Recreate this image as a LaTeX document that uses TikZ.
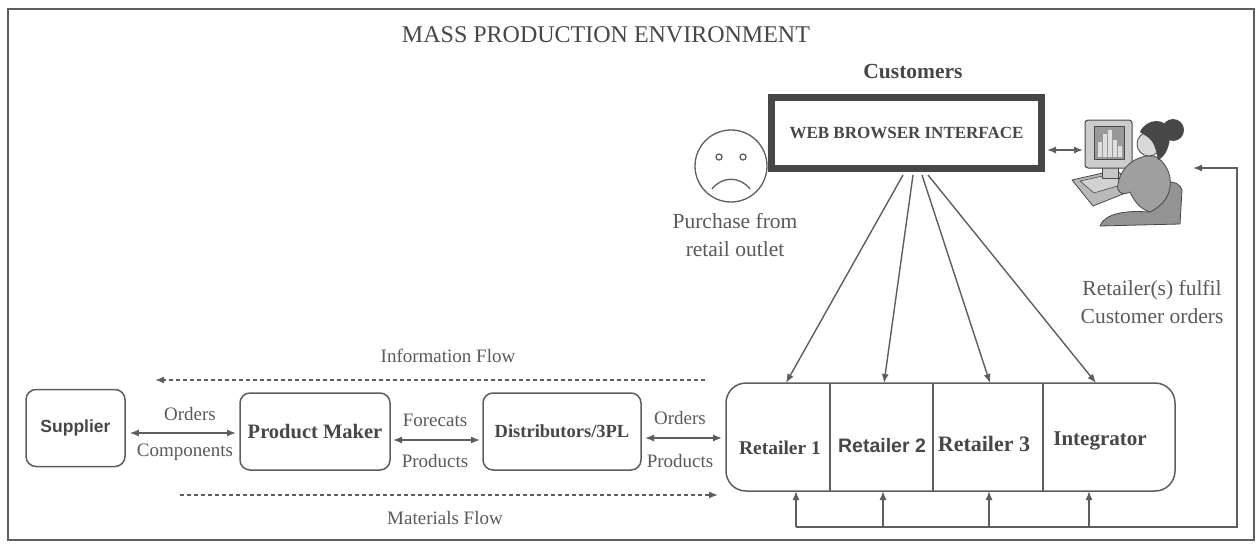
\documentclass[tikz,border=0pt]{standalone}
\usepackage{fontspec}
\setmainfont{Liberation Serif}
\newfontfamily\sansfam{Liberation Sans}
\usetikzlibrary{arrows.meta,calc}
\definecolor{ink}{HTML}{5E5E5E}
\definecolor{txt}{HTML}{5A5A5A}
\definecolor{dark}{HTML}{474747}
\newcommand{\fs}[1]{\fontsize{#1}{#1}\selectfont}
\begin{document}
\begin{tikzpicture}[x=1pt,y=-1pt,
  >={Latex[length=9pt,width=7pt]},
  lbl/.style={text=txt,font=\fs{19},inner sep=0pt},
  biglbl/.style={text=txt,font=\fs{21.5},inner sep=0pt},
  blbl/.style={text=dark,inner sep=0pt},
  stage/.style={draw=ink,line width=1.5pt,rounded corners=10pt,minimum height=77pt,inner sep=0pt},
  flow/.style={draw=ink,line width=1.4pt},
  dashflow/.style={draw=ink,line width=1.6pt,dash pattern=on 4pt off 3pt},
]
\useasboundingbox (0,0) rectangle (1257,543);
\fill[white] (0,0) rectangle (1257,543);
% outer frame
\draw[ink,line width=2pt] (8,9) rectangle (1254,540);

% titles
\node[blbl,font=\fs{24}] (title) at (606,35) {MASS PRODUCTION ENVIRONMENT};
\node[blbl,font=\bfseries\fs{21.5}] (cust) at (913,72) {Customers};

% web interface
\node[draw=dark,line width=7pt,minimum width=270pt,minimum height=71pt,inner sep=0pt,
      font=\bfseries\fs{17},text=dark] (web) at (906.5,133) {WEB BROWSER INTERFACE};

% unhappy face
\begin{scope}[draw=ink,line width=1.3pt]
  \draw (731,166) circle (36);
  \draw (719,157) circle (3);
  \draw (743,157) circle (3);
  \draw (712,189) .. controls (722,176) and (740,176) .. (750,189);
\end{scope}
\node[biglbl] (p1) at (735,221) {Purchase from};
\node[biglbl] (p2) at (735,249) {retail outlet};

% customer at computer
\begin{scope}[line join=round]
  % desk and keyboard
  \filldraw[fill=gray!55,draw=dark,line width=0.8pt] (1072,180) -- (1116,170) -- (1138,188) -- (1093,206) -- cycle;
  \filldraw[fill=gray!35,draw=dark,line width=0.6pt] (1080,181) -- (1112,174) -- (1124,184) -- (1094,193) -- cycle;
  % monitor
  \filldraw[fill=gray!45,draw=dark,line width=0.8pt] (1102,166) rectangle (1118,178);
  \filldraw[fill=gray!40,draw=dark,line width=1pt,rounded corners=3pt] (1085,120) rectangle (1132,168);
  \filldraw[fill=gray!80,draw=dark,line width=0.6pt] (1094,126) rectangle (1124,159);
  \foreach \bx/\bt in {1098/142,1103/134,1108/130,1113/140,1118/146}
    \fill[gray!25] (\bx,\bt) rectangle ++(3.5,157-\bt);
  % chair
  \filldraw[fill=gray!85,draw=dark,line width=0.8pt] (1148,192) .. controls (1160,180) and (1178,178) .. (1182,190)
     -- (1180,224) -- (1100,226) .. controls (1104,214) and (1125,210) .. (1148,212) -- cycle;
  % body
  \filldraw[fill=gray!75,draw=dark,line width=0.8pt] (1146,156) .. controls (1128,160) and (1120,172) .. (1118,184)
     .. controls (1116,192) and (1122,196) .. (1130,192)
     .. controls (1134,200) and (1138,208) .. (1150,212)
     .. controls (1162,206) and (1172,196) .. (1170,178)
     .. controls (1168,166) and (1160,158) .. (1154,156) -- cycle;
  % face and hair
  \filldraw[fill=gray!30,draw=dark,line width=0.8pt] (1149,144) circle (12);
  \fill[dark] (1140,132) .. controls (1146,118) and (1168,116) .. (1170,134)
     .. controls (1170,146) and (1166,156) .. (1158,160) .. controls (1156,150) and (1154,140) .. (1146,136) -- cycle;
  \fill[dark] (1173,130) circle (11);
\end{scope}
\coordinate (personL) at (1083,150);
\coordinate (personR) at (1193,168);

% supply chain stages
\node[stage,minimum width=99pt,font=\sansfam\bfseries\fs{17.5},text=dark] (sup) at (75.5,428) {Supplier};
\node[stage,minimum width=150pt,font=\bfseries\fs{20.5},text=dark] (pm) at (315,431.5) {Product Maker};
\node[stage,minimum width=158pt,font=\bfseries\fs{18.5},text=dark] (dist) at (562,431.5) {Distributors/3PL};

% retailers
\node[draw=ink,line width=1.5pt,rounded corners=20pt,minimum width=449pt,minimum height=108pt,inner sep=0pt] (ret) at (950.5,437) {};
\draw[ink,line width=1.3pt] (830,383) -- (830,491);
\draw[ink,line width=1.3pt] (933,383) -- (933,491);
\draw[ink,line width=1.3pt] (1043,383) -- (1043,491);
\node[blbl,font=\bfseries\fs{19.5}] (r1) at (780,448) {Retailer 1};
\node[blbl,font=\sansfam\bfseries\fs{19.5}] (r2) at (882,446) {Retailer 2};
\node[blbl,font=\bfseries\fs{22}] (r3) at (984,444) {Retailer 3};
\node[blbl,font=\bfseries\fs{21}] (r4) at (1100,441) {Integrator};

% links between stages
\draw[flow,<->] (sup.east |- 0,433) ++(4,0) coordinate (a1) -- (236,433) coordinate (a2);
\node[lbl] (o1) at (190,414) {Orders};
\node[lbl] (c1) at (185,452) {Components};
\draw[flow,<->] (393,440) coordinate (b1) -- (480,440) coordinate (b2);
\node[lbl] (f1) at (435,420) {Forecats};
\node[lbl] (pr1) at (435,461) {Products};
\draw[flow,<->] (645,438) coordinate (d1) -- (722,438) coordinate (d2);
\node[lbl] (o2) at (680,418) {Orders};
\node[lbl] (pr2) at (680,461) {Products};

% information and materials flow
\coordinate (if1) at (705,380);
\coordinate (if2) at (155,380);
\draw[dashflow,->] (if1) -- (if2);
\node[lbl] (ifl) at (448,356) {Information Flow};
\coordinate (mf1) at (180,495);
\coordinate (mf2) at (718,495);
\draw[dashflow,->] (mf1) -- (mf2);
\node[lbl] (mfl) at (445,518) {Materials Flow};

% orders from the web interface to each retailer
\foreach \sx/\ex [count=\i] in {903/786,913/884,922/990,928/1096}{
  \coordinate (ws\i) at (\sx,175);
  \coordinate (rt\i) at (\ex,383);
  \draw[flow,->] (ws\i) -- (rt\i);
}
\draw[flow,<->] (web.east |- personL) ++(2,0) -- (personL);

% fulfilment loop back to the customer
\node[biglbl] (ful1) at (1152,290) {Retailer(s) fulfil};
\node[biglbl] (ful2) at (1152,316) {Customer orders};
\foreach \x [count=\i] in {796,883,989,1089}{
  \coordinate (rb\i) at (\x,491);
  \draw[flow,->] (\x,527) -- (rb\i);
}
\draw[flow,->] (796,527) -- (1237,527) -- (1237,168) -- (personR);
\end{tikzpicture}
\end{document}
